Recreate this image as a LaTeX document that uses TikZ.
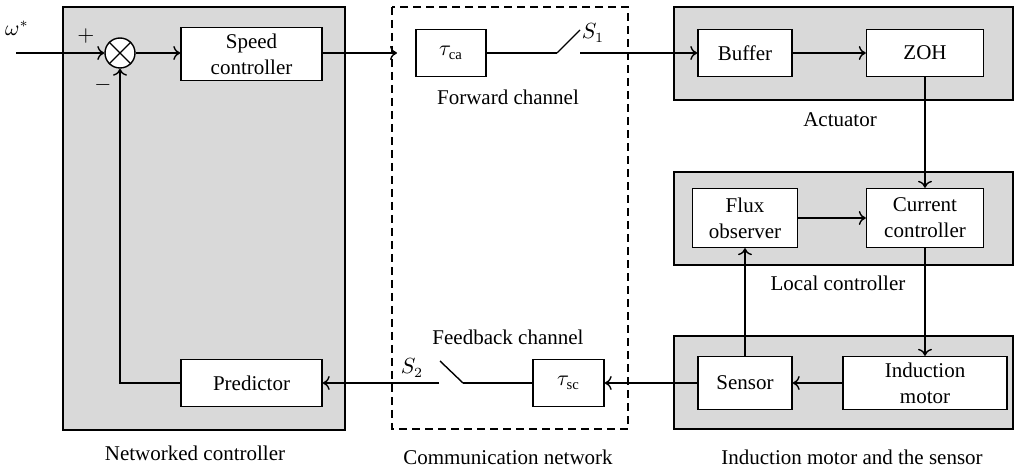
\documentclass[tikz,border=0pt]{standalone}
\usepackage{fontspec}
\setmainfont{Liberation Serif}
\usetikzlibrary{arrows.meta}

\begin{document}
\begin{tikzpicture}
  [x=0.5pt,y=-0.5pt,>={To[length=3.5pt,width=7pt]},line width=0.7pt,
   every node/.style={font=\fontsize{10.5}{13}\selectfont},
   blk/.style={draw,fill=white,align=center,inner sep=0pt},
   grp/.style={draw,fill=black!15},
   net/.style={draw,dash pattern=on 4pt off 2.5pt}]
    \useasboundingbox (0,0) rectangle (1019,470);

    % group boxes
    \path[grp] (63,7)   rectangle (345,430);
    \path[net] (392,7)  rectangle (628,429);
    \path[grp] (674,7)  rectangle (1013,100);
    \path[grp] (674,172) rectangle (1013,265);
    \path[grp] (674,336) rectangle (1013,429);

    % blocks
    \node (sum)  [draw,circle,fill=white,minimum size=15pt,inner sep=0pt] at (120,53) {};
    \node (sc)   [blk,minimum width=70.5pt,minimum height=26.5pt] at (251.5,54) {Speed\\controller};
    \node (pred) [blk,minimum width=70.5pt,minimum height=23.5pt] at (251.5,383) {Predictor};
    \node (tca)  [blk,minimum width=35pt,minimum height=23.5pt] at (451,53) {$\tau_{\mathrm{ca}}$};
    \node (tsc)  [blk,minimum width=35.5pt,minimum height=23.5pt] at (568.5,383) {$\tau_{\mathrm{sc}}$};
    \node (buf)  [blk,minimum width=47pt,minimum height=23.5pt] at (745,53) {Buffer};
    \node (zoh)  [blk,minimum width=58.5pt,minimum height=23.5pt] at (925,53) {ZOH};
    \node (flux) [blk,minimum width=52.5pt,minimum height=29.5pt] at (745,218) {Flux\\observer};
    \node (cur)  [blk,minimum width=58.5pt,minimum height=29.5pt] at (925,218) {Current\\controller};
    \node (sen)  [blk,minimum width=47pt,minimum height=26.5pt] at (745,383) {Sensor};
    \node (im)   [blk,minimum width=82pt,minimum height=26.5pt] at (925,383) {Induction\\motor};

    \draw (sum.north west) -- (sum.south east);
    \draw (sum.north east) -- (sum.south west);

    % points of the switches and free ends
    \coordinate (win) at (16,53);
    \coordinate (netw) at (397,53);
    \coordinate (s1a) at (557,53);
    \coordinate (s1b) at (580,30);
    \coordinate (s1c) at (580,53);
    \coordinate (s2a) at (463,383);
    \coordinate (s2b) at (440,361);
    \coordinate (s2c) at (439,383);

    % labels
    \node (w)   at (17,28)   {$\omega^*$};
    \node (pl)  at (86,36)   {$+$};
    \node (mi)  at (103,85)  {$-$};
    \node (S1)  at (593,33)  {$S_1$};
    \node (S2)  at (412,368) {$S_2$};
    \node (fwd) at (508,97)  {Forward channel};
    \node (fbk) at (508,337) {Feedback channel};
    \node (act) at (840,120) {Actuator};
    \node (loc) at (838,283) {Local controller};
    \node (ncl) at (195,453) {Networked controller};
    \node (cnl) at (508,457) {Communication network};
    \node (iml) at (852,457) {Induction motor and the sensor};

    % signal lines
    \foreach \from/\to in {win/sum,s1c/buf,buf/zoh,zoh/cur,flux/cur,cur/im,im/sen,sen/flux,sen/tsc,s2c/pred}
      \draw[->] (\from) -- (\to);
    \draw[->] (sum) -- (sum -| sc.west);
    \draw[->] (sc.east |- sum) -- (netw);
    \foreach \from/\to in {tca/s1a,s1a/s1b,tsc/s2a,s2a/s2b}
      \draw (\from) -- (\to);
    \draw[->] (pred) -| (sum);
\end{tikzpicture}
\end{document}
